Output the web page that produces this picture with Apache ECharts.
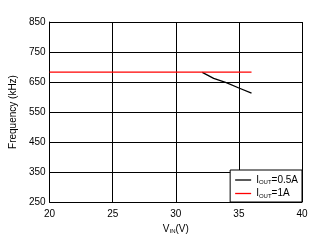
<!DOCTYPE html>
<html><head><meta charset="utf-8">
<script src="https://cdn.jsdelivr.net/npm/echarts@6/dist/echarts.min.js"></script>
<style>html,body{margin:0;padding:0;background:#fff}#c{width:322px;height:243px}</style>
</head><body><div id="c"></div>
<script>
const vinHalfA = [32.1, 33, 34, 35, 36];
const freqHalfA = [682, 662, 648, 630, 613];
const vinOneA = [20, 36];
const freqOneA = [683, 683];
const xTicks = [20, 25, 30, 35, 40];
const yTicks = [250, 350, 450, 550, 650, 750, 850];
const seriesNames = ['IOUT=0.5A', 'IOUT=1A'];
const seriesColors = ['#000000', '#ff0000'];

const chart = echarts.init(document.getElementById('c'), null, {renderer: 'canvas'});
const font = 'Liberation Sans, Arial, sans-serif';
const txt = {fontFamily: font, fontSize: 10, color: '#000'};
chart.setOption({
  animation: false,
  backgroundColor: '#fff',
  grid: {left: 48, right: 20, top: 22, bottom: 41, containLabel: false},
  xAxis: {
    type: 'value', min: xTicks[0], max: xTicks[xTicks.length - 1], interval: 5,
    name: 'V{s|IN}(V)', nameLocation: 'middle', nameGap: 19,
    nameTextStyle: {fontFamily: font, fontSize: 10, color: '#000',
      rich: {s: {fontFamily: font, fontSize: 6, color: '#000', padding: [5, 0, 0, 0]}}},
    axisLine: {show: true, lineStyle: {color: '#000', width: 1}},
    axisTick: {show: false},
    axisLabel: Object.assign({margin: 7}, txt),
    splitLine: {show: true, lineStyle: {color: '#000', width: 1}}
  },
  yAxis: {
    type: 'value', min: yTicks[0], max: yTicks[yTicks.length - 1], interval: 100,
    name: 'Frequency (kHz)', nameLocation: 'middle', nameGap: 28, nameRotate: 90,
    nameTextStyle: txt,
    axisLine: {show: true, lineStyle: {color: '#000', width: 1}},
    axisTick: {show: false},
    axisLabel: Object.assign({margin: 4}, txt),
    splitLine: {show: true, lineStyle: {color: '#000', width: 1}}
  },
  legend: {
    orient: 'vertical', right: 20, bottom: 41,
    backgroundColor: '#fff', borderColor: '#000', borderWidth: 1, borderRadius: 0,
    padding: [5, 4, 3, 5], itemGap: 3, itemWidth: 16, itemHeight: 10,
    data: seriesNames.map((n, i) => ({
      name: n, icon: 'path://M0,0L32,0L32,2.6L0,2.6Z',
      itemStyle: {color: seriesColors[i], borderWidth: 0}
    })),
    formatter: function (n) {
      return '{a|I}{s|OUT}{a|' + n.slice(4) + '}';
    },
    textStyle: {fontFamily: font, fontSize: 10, color: '#000',
      rich: {a: {fontFamily: font, fontSize: 10, color: '#000'},
             s: {fontFamily: font, fontSize: 6, color: '#000', padding: [5, 0, 0, 0]}}}
  },
  series: [
    {name: seriesNames[0], type: 'line', symbol: 'none', color: seriesColors[0],
     lineStyle: {color: seriesColors[0], width: 1.3},
     data: vinHalfA.map((v, i) => [v, freqHalfA[i]])},
    {name: seriesNames[1], type: 'line', symbol: 'none', color: seriesColors[1],
     lineStyle: {color: seriesColors[1], width: 1.3},
     data: vinOneA.map((v, i) => [v, freqOneA[i]])}
  ]
});
</script></body></html>
